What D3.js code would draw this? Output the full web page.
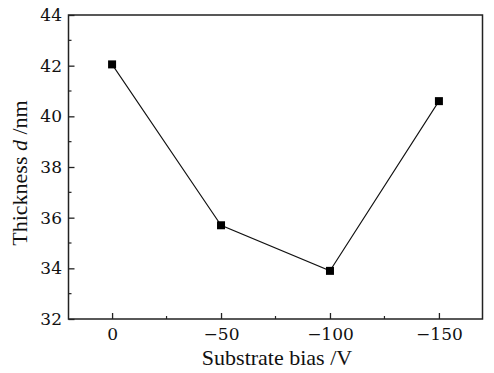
<!DOCTYPE html>
<html><head><meta charset="utf-8">
<script src="https://cdn.jsdelivr.net/npm/d3@7"></script>
<style>body{margin:0;background:#fff}svg{display:block}text{font-family:"DejaVu Serif","Liberation Serif",serif;fill:#111}</style>
</head><body>
<script>
const biasValues = [0, -50, -100, -150];
const thicknessValues = [42.05, 35.7, 33.9, 40.6];
const xTickValues = [0, -50, -100, -150];
const xTickLabels = ["0", "\u221250", "\u2212100", "\u2212150"];
const yTickValues = [32, 34, 36, 38, 40, 42, 44];

const W = 494, H = 373;
const m = {l: 68.5, r: 11.5, t: 15, b: 54};
const svg = d3.select("body").append("svg").attr("width", W).attr("height", H);
const x = d3.scaleLinear().domain([20, -170]).range([m.l, W - m.r]);
const y = d3.scaleLinear().domain([32, 44]).range([H - m.b, m.t]);
const g = svg.append("g");

// frame
g.append("rect").attr("x", m.l).attr("y", m.t).attr("width", W - m.r - m.l).attr("height", H - m.b - m.t)
  .attr("fill", "none").attr("stroke", "#222").attr("stroke-width", 1.5);

// y axis ticks (inward)
const yAx = g.append("g").attr("transform", `translate(${m.l},0)`)
  .call(d3.axisLeft(y).tickValues(yTickValues).tickSize(-6).tickPadding(6.5).tickFormat(d3.format("d")));
yAx.select(".domain").remove();
yAx.selectAll("line").attr("stroke", "#222").attr("stroke-width", 1.3);
yAx.selectAll("text").style("font-size", "17px").attr("fill", "#111");
const yMinor = d3.range(33, 44, 2);
g.append("g").selectAll("line").data(yMinor).join("line")
  .attr("x1", m.l).attr("x2", m.l + 3).attr("y1", d => y(d)).attr("y2", d => y(d))
  .attr("stroke", "#222").attr("stroke-width", 1.2);

// x axis ticks
const xAx = g.append("g").attr("transform", `translate(0,${H - m.b})`)
  .call(d3.axisBottom(x).tickValues(xTickValues).tickSize(-6).tickPadding(9)
    .tickFormat((d, i) => xTickLabels[i]));
xAx.select(".domain").remove();
xAx.selectAll("line").attr("stroke", "#222").attr("stroke-width", 1.3);
xAx.selectAll("text").style("font-size", "17px").attr("fill", "#111");
const xMinor = [-25, -75, -125];
g.append("g").selectAll("line").data(xMinor).join("line")
  .attr("x1", d => x(d)).attr("x2", d => x(d)).attr("y1", H - m.b).attr("y2", H - m.b - 3)
  .attr("stroke", "#222").attr("stroke-width", 1.2);

// line + markers
const pts = biasValues.map((b, i) => [b, thicknessValues[i]]);
g.append("path").datum(pts)
  .attr("d", d3.line().x(d => x(d[0])).y(d => y(d[1])))
  .attr("fill", "none").attr("stroke", "#111").attr("stroke-width", 1.1);
g.append("g").selectAll("rect").data(pts).join("rect")
  .attr("x", d => x(d[0]) - 4).attr("y", d => y(d[1]) - 4).attr("width", 8).attr("height", 8)
  .attr("fill", "#000");

// labels
svg.append("text").attr("x", 277).attr("y", 365).attr("text-anchor", "middle")
  .style("font-family", "'Liberation Serif',serif").style("font-size", "22px").text("Substrate bias /V");
const yl = svg.append("text").attr("transform", `translate(27,173) rotate(-90)`)
  .attr("text-anchor", "middle").style("font-family", "'Liberation Serif',serif").style("font-size", "22px");
yl.append("tspan").text("Thickness ");
yl.append("tspan").style("font-style", "italic").text("d");
yl.append("tspan").text(" /nm");
</script>
</body></html>
